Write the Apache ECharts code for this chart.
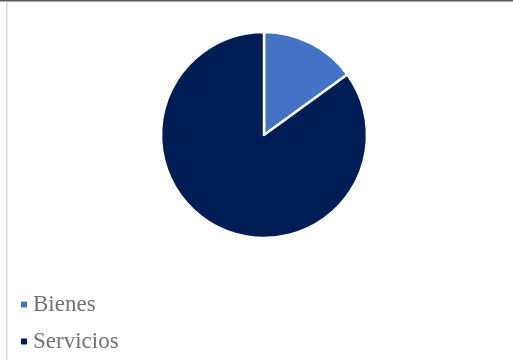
<!DOCTYPE html>
<html><head><meta charset="utf-8">
<script src="https://cdn.jsdelivr.net/npm/echarts@6/dist/echarts.min.js"></script>
<style>html,body{margin:0;padding:0;background:#fff;}#c{width:513px;height:360px;}</style>
</head><body><div id="c"></div>
<script>
const categories = ["Bienes", "Servicios"];
const values = [15, 85];
const colors = ["#4472C4", "#001E55"];

const chart = echarts.init(document.getElementById('c'), null, {renderer: 'canvas'});
chart.setOption({
  animation: false,
  backgroundColor: '#fff',
  color: colors,
  graphic: [
    {type: 'rect', shape: {x: 0, y: 0, width: 513, height: 1.5}, style: {fill: '#595959'}, silent: true},
    {type: 'rect', shape: {x: 6, y: 2, width: 1.5, height: 358}, style: {fill: '#d9d9d9'}, silent: true}
  ],
  legend: {
    orient: 'vertical',
    left: 14,
    top: 288,
    itemWidth: 8,
    itemHeight: 8,
    itemGap: 14,
    icon: 'rect',
    textStyle: {fontFamily: '"Liberation Serif", "DejaVu Serif", serif', fontSize: 23, color: '#767171'},
    data: categories
  },
  series: [{
    type: 'pie',
    center: [264, 135],
    radius: [0, 103],
    startAngle: 90,
    clockwise: true,
    label: {show: false},
    labelLine: {show: false},
    itemStyle: {borderColor: '#fff', borderWidth: 2.5},
    data: categories.map((c, i) => ({name: c, value: values[i]}))
  }]
});
</script></body></html>
